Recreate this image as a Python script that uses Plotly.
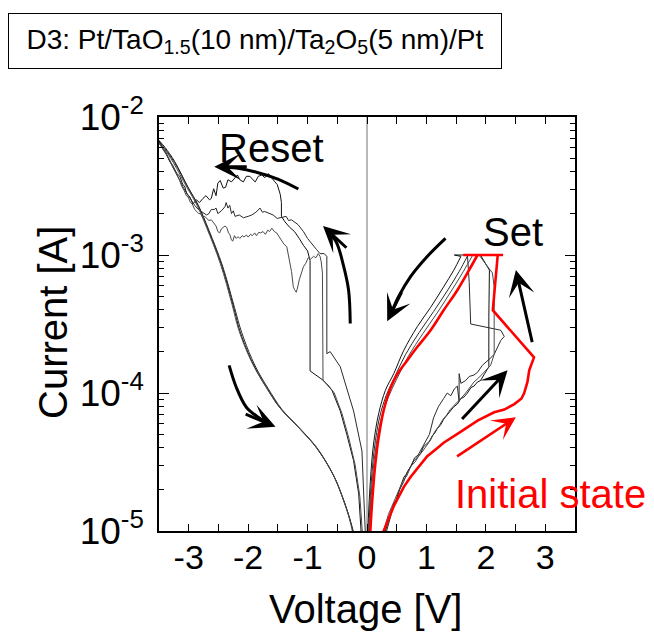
import numpy as np
import plotly.graph_objects as go

FONT = "Liberation Sans"

# Each branch is a list of (voltage [V], log10(current [A])) points.

# ---------------- cycle 1 ----------------
c1_set = [(0.25, -5.2), (0.31, -5.0), (0.38, -4.90), (0.45, -4.80), (0.50, -4.77), (0.53, -4.72),
          (0.58, -4.66), (0.62, -4.61), (0.66, -4.59), (0.70, -4.56), (0.74, -4.52), (0.79, -4.49),
          (0.84, -4.47), (0.90, -4.44), (0.95, -4.39), (1.01, -4.37), (1.05, -4.35), (1.10, -4.31),
          (1.14, -4.29), (1.18, -4.26), (1.24, -4.23), (1.29, -4.19), (1.33, -4.17), (1.40, -4.13),
          (1.46, -4.10), (1.52, -4.08), (1.58, -4.04), (1.63, -4.03), (1.69, -4.00), (1.75, -3.96),
          (1.80, -3.95), (1.86, -3.92), (1.91, -3.91), (1.98, -3.86), (2.05, -3.81), (2.05, -3.45),
          (2.06, -3.11), (1.91, -3.00), (2.20, -3.00), (1.47, -3.00), (1.58, -3.01)]
c1_on = [(1.58, -3.01), (1.46, -3.11), (1.29, -3.23), (1.07, -3.38), (0.845, -3.52), (0.62, -3.69),
         (0.45, -3.86), (0.31, -3.98), (0.196, -4.15), (0.11, -4.37), (0.056, -4.64), (0.015, -5.0),
         (0.0, -5.3)]
c1_reset = [(-0.02, -5.4), (-0.10, -5.0), (-0.14, -4.73), (-0.226, -4.49), (-0.34, -4.30), (-0.45, -4.13),
            (-0.59, -3.98), (-0.73, -3.91), (-0.958, -3.84), (-0.958, -3.45), (-0.958, -3.04), (-1.00, -2.97),
            (-1.07, -2.93), (-1.14, -2.88), (-1.22, -2.83), (-1.30, -2.80), (-1.38, -2.76), (-1.44, -2.72),
            (-1.44, -2.62), (-1.46, -2.56), (-1.51, -2.49), (-1.55, -2.47), (-1.60, -2.44), (-1.66, -2.41),
            (-1.72, -2.44), (-1.77, -2.42), (-1.83, -2.43), (-1.88, -2.47), (-1.92, -2.455), (-1.97, -2.43),
            (-2.03, -2.43), (-2.08, -2.47), (-2.14, -2.455), (-2.18, -2.42), (-2.22, -2.44), (-2.28, -2.47),
            (-2.34, -2.455), (-2.38, -2.51), (-2.42, -2.515), (-2.47, -2.46), (-2.51, -2.48), (-2.54, -2.57),
            (-2.58, -2.52), (-2.62, -2.59), (-2.65, -2.60), (-2.71, -2.57), (-2.76, -2.59), (-2.82, -2.62),
            (-2.87, -2.60), (-2.93, -2.63), (-2.98, -2.58), (-3.03, -2.56), (-3.07, -2.50), (-3.10, -2.49),
            (-3.15, -2.43), (-3.20, -2.41), (-3.27, -2.35), (-3.32, -2.32), (-3.38, -2.26), (-3.43, -2.23),
            (-3.50, -2.17)]
c1_hrs = [(-3.50, -2.17), (-3.40, -2.22), (-3.24, -2.32), (-3.01, -2.51), (-2.84, -2.64), (-2.68, -2.81),
          (-2.45, -3.07), (-2.25, -3.37), (-2.14, -3.55), (-1.97, -3.74), (-1.83, -3.86), (-1.69, -3.96),
          (-1.46, -4.11), (-1.13, -4.26), (-0.845, -4.40), (-0.56, -4.60), (-0.40, -4.77), (-0.28, -4.93),
          (-0.22, -5.05), (-0.17, -5.4)]

# ---------------- cycle 2 ----------------
c2_set = [(0.27, -5.2), (0.33, -5.0), (0.42, -4.86), (0.50, -4.76), (0.55, -4.70), (0.62, -4.64),
          (0.68, -4.57), (0.74, -4.53), (0.80, -4.47), (0.86, -4.45), (0.92, -4.40), (0.98, -4.36),
          (1.05, -4.30), (1.12, -4.18), (1.20, -4.10), (1.29, -4.04), (1.35, -4.00), (1.41, -4.02),
          (1.47, -3.97), (1.52, -3.95), (1.55, -4.06), (1.55, -3.86), (1.58, -3.93), (1.66, -3.91),
          (1.72, -3.88), (1.80, -3.87), (1.86, -3.85), (1.94, -3.80), (2.00, -3.78), (2.07, -3.75),
          (2.14, -3.72), (2.25, -3.62), (2.31, -3.59), (2.25, -3.545), (1.745, -3.50), (1.72, -3.20),
          (1.69, -3.00), (2.20, -3.00), (1.70, -3.00)]
c2_on = [(1.70, -3.00), (1.55, -3.12), (1.35, -3.26), (1.12, -3.41), (0.88, -3.56), (0.65, -3.72),
         (0.47, -3.88), (0.33, -4.01), (0.21, -4.18), (0.125, -4.40), (0.07, -4.66), (0.03, -5.0),
         (0.01, -5.4)]
c2_reset = [(-0.01, -5.4), (-0.03, -5.0), (-0.085, -4.42), (-0.226, -4.13), (-0.45, -3.81), (-0.62, -3.70),
            (-0.676, -3.715), (-0.676, -3.40), (-0.676, -3.01), (-0.72, -2.99), (-0.79, -2.99), (-0.85, -2.96),
            (-0.93, -2.92), (-1.00, -2.88), (-1.07, -2.83), (-1.16, -2.78), (-1.27, -2.745), (-1.32, -2.75),
            (-1.36, -2.72), (-1.44, -2.73), (-1.51, -2.735), (-1.58, -2.71), (-1.65, -2.70), (-1.72, -2.685),
            (-1.76, -2.69), (-1.80, -2.66), (-1.87, -2.69), (-1.94, -2.71), (-2.00, -2.72), (-2.08, -2.73),
            (-2.15, -2.71), (-2.22, -2.72), (-2.25, -2.68), (-2.28, -2.70), (-2.31, -2.64), (-2.34, -2.66),
            (-2.37, -2.62), (-2.39, -2.65), (-2.45, -2.68), (-2.51, -2.70), (-2.54, -2.66), (-2.57, -2.67),
            (-2.62, -2.67), (-2.66, -2.70), (-2.70, -2.71), (-2.77, -2.69), (-2.84, -2.67), (-2.90, -2.64),
            (-2.96, -2.60), (-3.02, -2.56), (-3.08, -2.52), (-3.15, -2.46), (-3.22, -2.40), (-3.30, -2.34),
            (-3.38, -2.27), (-3.44, -2.23), (-3.50, -2.18)]
c2_hrs = [(-3.50, -2.18), (-3.40, -2.23), (-3.24, -2.33), (-3.00, -2.52), (-2.83, -2.65), (-2.66, -2.82),
          (-2.43, -3.08), (-2.23, -3.38), (-2.11, -3.56), (-1.94, -3.75), (-1.80, -3.87), (-1.66, -3.97),
          (-1.43, -4.12), (-1.10, -4.27), (-0.82, -4.41), (-0.55, -4.61), (-0.39, -4.78), (-0.27, -4.94),
          (-0.21, -5.05), (-0.16, -5.4)]

# ---------------- cycle 3 ----------------
c3_set = [(0.23, -5.2), (0.28, -5.0), (0.36, -4.88), (0.47, -4.77), (0.54, -4.70), (0.60, -4.64),
          (0.67, -4.60), (0.74, -4.53), (0.81, -4.50), (0.88, -4.45), (0.94, -4.42), (1.00, -4.38),
          (1.07, -4.34), (1.14, -4.28), (1.21, -4.24), (1.28, -4.19), (1.34, -4.16), (1.40, -4.12),
          (1.47, -4.09), (1.55, -4.05), (1.60, -4.03), (1.66, -4.00), (1.73, -3.96), (1.80, -3.92),
          (1.88, -3.89), (1.95, -3.86), (2.01, -3.83), (2.08, -3.80), (2.14, -3.72), (2.14, -3.23),
          (2.11, -3.13), (1.885, -3.00), (2.20, -3.00), (1.78, -3.00)]
c3_on = [(1.78, -3.00), (1.62, -3.12), (1.42, -3.26), (1.18, -3.42), (0.94, -3.57), (0.70, -3.73),
         (0.50, -3.90), (0.36, -4.03), (0.23, -4.20), (0.14, -4.42), (0.08, -4.68), (0.04, -5.0),
         (0.02, -5.4)]
c3_reset = [(-0.04, -5.4), (-0.08, -5.0), (-0.12, -4.75), (-0.20, -4.52), (-0.31, -4.32), (-0.42, -4.15),
            (-0.55, -4.00), (-0.66, -3.94), (-0.74, -3.91), (-0.74, -3.50), (-0.75, -3.13), (-0.77, -3.05),
            (-0.79, -3.01), (-0.82, -2.99), (-0.86, -3.02), (-0.90, -3.01), (-0.95, -3.03), (-0.99, -3.02),
            (-1.03, -3.06), (-1.07, -3.085), (-1.11, -3.14), (-1.14, -3.18), (-1.17, -3.24), (-1.19, -3.27),
            (-1.22, -3.25), (-1.24, -3.23), (-1.27, -3.12), (-1.30, -3.04), (-1.33, -2.97), (-1.35, -2.94),
            (-1.40, -2.92), (-1.44, -2.89), (-1.48, -2.86), (-1.52, -2.84), (-1.56, -2.83), (-1.60, -2.806),
            (-1.64, -2.83), (-1.67, -2.82), (-1.71, -2.85), (-1.75, -2.83), (-1.79, -2.84), (-1.82, -2.835),
            (-1.86, -2.86), (-1.89, -2.84), (-1.93, -2.86), (-1.96, -2.85), (-2.00, -2.87), (-2.03, -2.855),
            (-2.07, -2.87), (-2.10, -2.86), (-2.14, -2.88), (-2.17, -2.867), (-2.20, -2.88), (-2.23, -2.86),
            (-2.26, -2.90), (-2.28, -2.89), (-2.31, -2.85), (-2.33, -2.84), (-2.36, -2.80), (-2.39, -2.79),
            (-2.42, -2.80), (-2.45, -2.81), (-2.48, -2.84), (-2.51, -2.83), (-2.54, -2.79), (-2.56, -2.78),
            (-2.59, -2.76), (-2.62, -2.745), (-2.66, -2.75), (-2.69, -2.74), (-2.73, -2.72), (-2.76, -2.73),
            (-2.80, -2.70), (-2.83, -2.70), (-2.87, -2.68), (-2.90, -2.67), (-2.94, -2.63), (-2.97, -2.62),
            (-3.01, -2.58), (-3.04, -2.57), (-3.08, -2.53), (-3.12, -2.50), (-3.16, -2.45), (-3.20, -2.42),
            (-3.24, -2.38), (-3.28, -2.35), (-3.32, -2.31), (-3.36, -2.28), (-3.40, -2.25), (-3.43, -2.23),
            (-3.47, -2.21), (-3.50, -2.19)]
c3_hrs = [(-3.50, -2.19), (-3.41, -2.23), (-3.26, -2.33), (-3.03, -2.51), (-2.86, -2.64), (-2.70, -2.80),
          (-2.47, -3.06), (-2.27, -3.36), (-2.16, -3.54), (-1.99, -3.73), (-1.85, -3.85), (-1.71, -3.95),
          (-1.48, -4.10), (-1.15, -4.25), (-0.86, -4.39), (-0.57, -4.59), (-0.41, -4.76), (-0.29, -4.92),
          (-0.23, -5.05), (-0.18, -5.4)]

# ---------------- initial (forming) sweep ----------------
init_sweep = [(0.25, -5.2), (0.28, -5.0), (0.45, -4.82), (0.62, -4.68), (0.73, -4.61), (0.90, -4.52),
              (1.01, -4.46), (1.18, -4.40), (1.29, -4.36), (1.58, -4.28), (1.86, -4.20), (2.14, -4.14),
              (2.31, -4.12), (2.48, -4.08), (2.60, -4.04), (2.645, -4.00), (2.70, -3.92), (2.73, -3.836),
              (2.81, -3.742), (2.117, -3.40), (2.20, -3.00), (2.29, -3.00), (1.62, -3.00)]
init_return = [(1.86, -3.00), (1.69, -3.13), (1.52, -3.255), (1.29, -3.40), (1.07, -3.545), (0.845, -3.667),
               (0.676, -3.764), (0.50, -3.87), (0.39, -3.97), (0.28, -4.127), (0.196, -4.321), (0.14, -4.513),
               (0.10, -4.709), (0.056, -5.0), (0.03, -5.3)]

# Sweep-direction arrows: shaft points (V, log10 I), last point is the tip
arrow_reset = [(-1.155, -2.522), (-1.50, -2.45), (-1.86, -2.40), (-2.20, -2.37), (-2.45, -2.36), (-2.57, -2.36)]
arrow_jump = [(-0.282, -3.497), (-0.31, -3.255), (-0.40, -3.07), (-0.507, -2.915), (-0.64, -2.83), (-0.74, -2.79)]
arrow_hrs = [(-2.32, -3.80), (-2.20, -3.958), (-2.03, -4.103), (-1.83, -4.176), (-1.65, -4.225), (-1.54, -4.245)]
arrow_on = [(1.32, -2.879), (1.01, -3.012), (0.73, -3.158), (0.53, -3.303), (0.42, -3.41), (0.34, -3.48)]
arrow_set_up = [(2.785, -3.642), (2.505, -3.109)]
arrow_set = [(1.576, -4.20), (2.365, -3.836)]
arrow_init = [(1.49, -4.467), (2.505, -4.176)]

# Page geometry
W, H = 654, 634
ML, MR, MT, MB = 159, 79, 117, 103
PW, PH = W - ML - MR, H - MT - MB
X_RANGE = [-3.5, 3.5]
Y_RANGE = [-5, -2]
PX_PER_V = PW / (X_RANGE[1] - X_RANGE[0])
PX_PER_DEC = PH / (Y_RANGE[1] - Y_RANGE[0])

fig = go.Figure()


def add_branch(points, color, width=1.0, shape="linear"):
    v = [p[0] for p in points]
    cur = [10 ** p[1] for p in points]
    fig.add_trace(go.Scatter(x=v, y=cur, mode="lines",
                             line=dict(color=color, width=width, shape=shape),
                             hoverinfo="skip", showlegend=False))


cycles = [
    (c1_set, c1_on, c1_reset, c1_hrs, "#111111"),
    (c2_set, c2_on, c2_reset, c2_hrs, "#2a2a2a"),
    (c3_set, c3_on, c3_reset, c3_hrs, "#4a4a4a"),
]
for s, on, rs, hrs, col in cycles:
    add_branch(s, col, 1.0)
    add_branch(on, col, 1.0, "spline")
    add_branch(rs, col, 1.0)
    add_branch(hrs, col, 1.0, "spline")

add_branch(init_sweep, "#ff0000", 2.6)
add_branch(init_return, "#ff0000", 2.6, "spline")


def add_arrow(points, color, width, size, head_px=34):
    """Shaft through the points; arrowhead at the last point, aligned with the final segment."""
    if len(points) > 2:
        add_branch(points[:-1], color, width, "spline")
    (px, py), (hx, hy) = points[-2], points[-1]
    dx = (hx - px) * PX_PER_V
    dy = (hy - py) * PX_PER_DEC
    n = (dx ** 2 + dy ** 2) ** 0.5
    tail_x = hx - dx / n * head_px / PX_PER_V
    tail_y = hy - dy / n * head_px / PX_PER_DEC
    if len(points) == 2:
        tail_x, tail_y = px, py
    fig.add_annotation(x=hx, y=hy, ax=tail_x, ay=tail_y, xref="x", yref="y", axref="x", ayref="y",
                       text="", showarrow=True, arrowhead=3, arrowsize=size,
                       arrowwidth=width, arrowcolor=color, standoff=0)


for pts in (arrow_reset, arrow_jump, arrow_hrs, arrow_on, arrow_set_up, arrow_set):
    add_arrow(pts, "black", 3, 1.45)
add_arrow(arrow_init, "#ff0000", 2.6, 1.5)

# Text labels
fig.add_annotation(x=-1.60, y=-2.225, xref="x", yref="y", text="Reset", showarrow=False,
                   font=dict(family=FONT, size=40, color="black"))
fig.add_annotation(x=2.457, y=-2.833, xref="x", yref="y", text="Set", showarrow=False,
                   font=dict(family=FONT, size=40, color="black"))
fig.add_annotation(x=3.08, y=-4.732, xref="x", yref="y", text="Initial state", showarrow=False,
                   font=dict(family=FONT, size=40, color="#ff0000"))


def px_to_paper(px, py):
    return (px - ML) / PW, (H - MB - py) / PH


# Sample stack caption in a framed box
bx, by = px_to_paper(8, 13)
fig.add_annotation(xref="paper", yref="paper", x=bx, y=by, xanchor="left", yanchor="top",
                   text="D3: Pt/TaO<sub>1.5</sub>(10 nm)/Ta<sub>2</sub>O<sub>5</sub>(5 nm)/Pt",
                   showarrow=False, width=492, height=54, align="center", valign="middle",
                   bordercolor="black", borderwidth=1, borderpad=0,
                   font=dict(family=FONT, size=28, color="black"))

# Axis titles
tx, ty = px_to_paper(365, 609)
fig.add_annotation(xref="paper", yref="paper", x=tx, y=ty, xanchor="center", yanchor="middle",
                   text="Voltage [V]", showarrow=False,
                   font=dict(family=FONT, size=40, color="black"))
tx, ty = px_to_paper(53, 323)
fig.add_annotation(xref="paper", yref="paper", x=tx, y=ty, xanchor="center", yanchor="middle",
                   text="Current [A]", textangle=-90, showarrow=False,
                   font=dict(family=FONT, size=40, color="black"))

x_ticks = [-3, -2, -1, 0, 1, 2, 3]
x_tick_text = ["-3", "-2", "-1", "0", "1", "2", "3"]
y_ticks = [1e-5, 1e-4, 1e-3, 1e-2]
y_tick_text = ["10<sup>-5</sup>", "10<sup>-4</sup>", "10<sup>-3</sup>", "10<sup>-2</sup>"]

fig.update_xaxes(range=X_RANGE, tickvals=x_ticks, ticktext=x_tick_text,
                 ticks="inside", ticklen=7, tickwidth=1.2, tickcolor="black",
                 minor=dict(dtick=0.5, tick0=0, ticks="inside", ticklen=7, tickwidth=1.2, tickcolor="black"),
                 showline=True, linecolor="black", linewidth=1.5, mirror="ticks",
                 showgrid=False, zeroline=True, zerolinecolor="#b8b8b8", zerolinewidth=1.5,
                 tickfont=dict(family=FONT, size=34, color="black"), ticklabelstandoff=-5)
fig.update_yaxes(type="log", range=Y_RANGE, tickvals=y_ticks, ticktext=y_tick_text,
                 ticks="inside", ticklen=10, tickwidth=1.2, tickcolor="black",
                 minor=dict(dtick="D1", ticks="inside", ticklen=5, tickwidth=1.2, tickcolor="black"),
                 showline=True, linecolor="black", linewidth=1.5, mirror="ticks",
                 showgrid=False, zeroline=False,
                 tickfont=dict(family=FONT, size=37, color="black"), ticklabelstandoff=6)

fig.update_layout(width=W, height=H, margin=dict(l=ML, r=MR, t=MT, b=MB),
                  paper_bgcolor="white", plot_bgcolor="white", showlegend=False,
                  font=dict(family=FONT, color="black"))

fig.write_html("out.html")
